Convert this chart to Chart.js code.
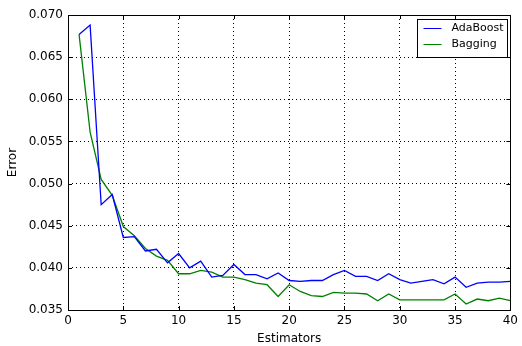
<!DOCTYPE html>
<html>
<head>
<meta charset="utf-8">
<script src="https://cdn.jsdelivr.net/npm/chart.js@4/dist/chart.umd.min.js"></script>
<style>
  html, body { margin: 0; padding: 0; background: #fff; }
  #wrap { width: 522px; height: 346px; }
</style>
</head>
<body>
<div id="wrap"><canvas id="c" width="522" height="346"></canvas></div>
<script>
const estimators = [];
for (let i = 1; i <= 40; i++) estimators.push(i);

const adaboost = [0.0677, 0.0688, 0.0475, 0.0487, 0.0436, 0.0437, 0.0420, 0.0422, 0.0406, 0.0417,
                  0.0400, 0.0408, 0.0389, 0.0391, 0.0404, 0.0392, 0.0392, 0.0387, 0.0394, 0.0385,
                  0.0384, 0.0385, 0.0385, 0.0392, 0.0397, 0.0390, 0.0390, 0.0385, 0.0393, 0.0386,
                  0.0382, 0.0384, 0.0386, 0.0381, 0.0389, 0.0377, 0.0382, 0.0383, 0.0383, 0.0384];
const bagging = [0.0677, 0.0561, 0.0505, 0.0486, 0.0449, 0.0438, 0.0423, 0.0414, 0.0409, 0.0393,
                 0.0393, 0.0397, 0.0395, 0.0389, 0.0389, 0.0386, 0.0382, 0.0380, 0.0366, 0.0380,
                 0.0372, 0.0367, 0.0366, 0.0371, 0.0370, 0.0370, 0.0369, 0.0361, 0.0369, 0.0362,
                 0.0362, 0.0362, 0.0362, 0.0362, 0.0369, 0.0357, 0.0363, 0.0361, 0.0364, 0.0361];

const seriesNames = ['AdaBoost', 'Bagging'];
const seriesColors = ['#0000ff', '#008000'];
const font = 'DejaVu Sans';

function pts(vals) {
  return vals.map((v, i) => ({ x: estimators[i], y: v }));
}

// matplotlib-like frame, inward ticks and legend box
const framePlugin = {
  id: 'frame',
  afterDraw(chart) {
    const ctx = chart.ctx;
    const a = chart.chartArea;
    const xs = chart.scales.x, ys = chart.scales.y;
    ctx.save();
    ctx.strokeStyle = '#000';
    ctx.lineWidth = 1;
    ctx.beginPath();
    xs.ticks.forEach(t => {
      const px = Math.round(xs.getPixelForValue(t.value)) + 0.5;
      ctx.moveTo(px, a.bottom); ctx.lineTo(px, a.bottom - 4);
      ctx.moveTo(px, a.top); ctx.lineTo(px, a.top + 4);
    });
    ys.ticks.forEach(t => {
      const py = Math.round(ys.getPixelForValue(t.value)) + 0.5;
      ctx.moveTo(a.left, py); ctx.lineTo(a.left + 4, py);
      ctx.moveTo(a.right, py); ctx.lineTo(a.right - 4, py);
    });
    ctx.stroke();
    ctx.strokeRect(Math.round(a.left) + 0.5, Math.round(a.top) + 0.5,
                   Math.round(a.right - a.left), Math.round(a.bottom - a.top));

    // legend
    const bx = 417.5, by = 19.5, bw = 90, bh = 38;
    ctx.fillStyle = '#fff';
    ctx.fillRect(bx, by, bw, bh);
    ctx.strokeRect(bx, by, bw, bh);
    ctx.font = '11px "' + font + '"';
    ctx.textBaseline = 'middle';
    seriesNames.forEach((name, i) => {
      const y = by + 9 + i * 16;
      ctx.strokeStyle = seriesColors[i];
      ctx.beginPath();
      ctx.moveTo(bx + 6, y); ctx.lineTo(bx + 24, y);
      ctx.stroke();
      ctx.fillStyle = '#000';
      ctx.fillText(name, bx + 34, y);
    });
    ctx.restore();
  }
};

new Chart(document.getElementById('c'), {
  type: 'line',
  data: {
    datasets: [
      { label: seriesNames[0], data: pts(adaboost), borderColor: seriesColors[0], borderWidth: 1.3, pointRadius: 0, tension: 0, fill: false },
      { label: seriesNames[1], data: pts(bagging), borderColor: seriesColors[1], borderWidth: 1.3, pointRadius: 0, tension: 0, fill: false }
    ]
  },
  options: {
    responsive: false,
    animation: false,
    layout: { padding: { top: 15, right: 10, left: 0, bottom: 0 } },
    plugins: { legend: { display: false }, tooltip: { enabled: false } },
    scales: {
      x: {
        type: 'linear', min: 0, max: 40,
        afterFit(s) { s.height = 36; },
        ticks: { stepSize: 5, color: '#000', font: { family: font, size: 12 }, padding: 4 },
        grid: { color: '#000', lineWidth: 1, drawTicks: false },
        border: { display: false, dash: [1, 3] },
        title: { display: true, text: 'Estimators', color: '#000', font: { family: font, size: 12 }, padding: { top: 2, bottom: 0 } }
      },
      y: {
        type: 'linear', min: 0.035, max: 0.070,
        afterFit(s) { s.width = 68; },
        ticks: { stepSize: 0.005, color: '#000', font: { family: font, size: 12 }, padding: 5,
                 callback: v => v.toFixed(3) },
        grid: { color: '#000', lineWidth: 1, drawTicks: false },
        border: { display: false, dash: [1, 3] },
        title: { display: true, text: 'Error', color: '#000', font: { family: font, size: 12 }, padding: { top: 6, bottom: 0 } }
      }
    }
  },
  plugins: [framePlugin]
});
</script>
</body>
</html>
